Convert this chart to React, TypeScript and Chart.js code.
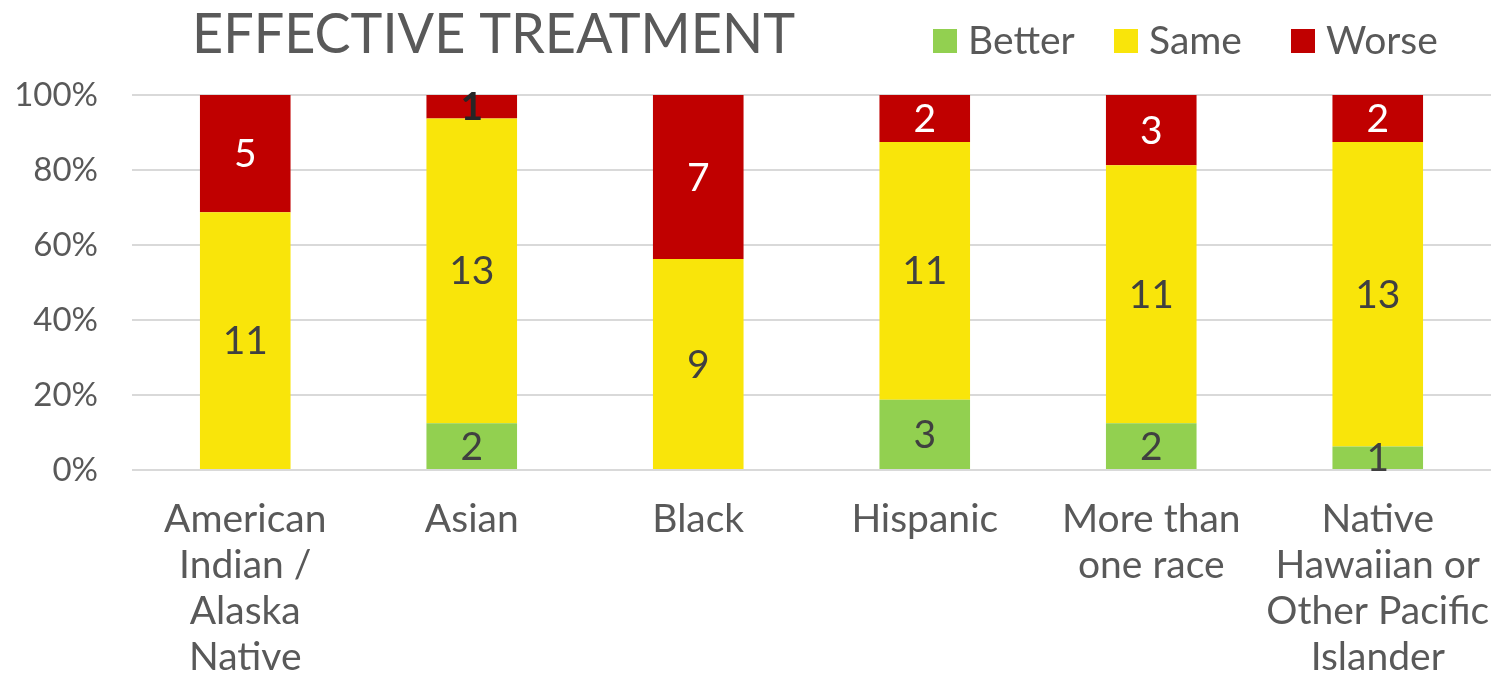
import React, { useEffect, useRef } from "react";
import { Chart, registerables } from "chart.js";

Chart.register(...registerables);

// ---- data ----
const categories: string[][] = [
  ["American", "Indian /", "Alaska", "Native"],
  ["Asian"],
  ["Black"],
  ["Hispanic"],
  ["More than", "one race"],
  ["Native", "Hawaiian or", "Other Pacific", "Islander"],
];
const seriesNames = ["Better", "Same", "Worse"];
const better = [0, 2, 0, 3, 2, 1];
const same = [11, 13, 9, 11, 11, 13];
const worse = [5, 1, 7, 2, 3, 2];
const yTickStep = 20;
const yMax = 100;
const titleText = "EFFECTIVE TREATMENT";

// ---- styles ----
const seriesColors = ["#92D050", "#F9E50A", "#C00000"];
const FONT = "Lato, 'Open Sans', sans-serif";
const TEXT = "#595959";
const legendBoxX = [933, 1114, 1291];

const counts = [better, same, worse];
const totals = better.map((_, i) => better[i] + same[i] + worse[i]);

const overlayPlugin = {
  id: "overlay",
  afterDatasetsDraw(chart: any) {
    const ctx = chart.ctx;
    ctx.save();
    chart.data.datasets.forEach((ds: any, di: number) => {
      const meta = chart.getDatasetMeta(di);
      meta.data.forEach((el: any, i: number) => {
        const c = counts[di][i];
        if (!c) return;
        const top = Math.min(el.y, el.base);
        const bottom = Math.max(el.y, el.base);
        const h = bottom - top;
        const cy = (top + bottom) / 2;
        let color = "#404040";
        let weight = "";
        if (di === 2) {
          if (h < 30) {
            color = "#262626";
            weight = "bold ";
          } else color = "#FFFFFF";
        }
        ctx.font = `${weight}39px ${FONT}`;
        ctx.fillStyle = color;
        ctx.textAlign = "center";
        ctx.textBaseline = "middle";
        ctx.fillText(String(c), el.x, cy + 1);
      });
    });
    ctx.restore();
  },
  afterDraw(chart: any) {
    const ctx = chart.ctx;
    ctx.save();
    ctx.font = `56px ${FONT}`;
    ctx.fillStyle = TEXT;
    ctx.textAlign = "left";
    ctx.textBaseline = "alphabetic";
    ctx.fillText(titleText, 192, 53, 603);
    ctx.font = `39px ${FONT}`;
    seriesNames.forEach((name, i) => {
      const x = legendBoxX[i];
      ctx.fillStyle = seriesColors[i];
      ctx.fillRect(x, 29, 24, 24);
      ctx.fillStyle = TEXT;
      ctx.fillText(name, x + 35, 54);
    });
    ctx.restore();
  },
};

export default function App() {
  const ref = useRef<HTMLCanvasElement | null>(null);
  useEffect(() => {
    if (!ref.current) return;
    const chart = new Chart(ref.current, {
      type: "bar",
      data: {
        labels: categories,
        datasets: seriesNames.map((name, di) => ({
          label: name,
          data: counts[di].map((v, i) => (v / totals[i]) * 100),
          backgroundColor: seriesColors[di],
          borderWidth: 0,
          barPercentage: 0.4,
          categoryPercentage: 1,
        })),
      },
      options: {
        responsive: false,
        animation: false,
        layout: { padding: { top: 95, right: 6, left: 17, bottom: 0 } },
        plugins: {
          legend: { display: false },
          title: { display: false },
          tooltip: { enabled: false },
        },
        scales: {
          x: {
            stacked: true,
            grid: { display: false },
            border: { display: false },
            afterFit: (s: any) => {
              s.paddingLeft = 0;
              s.paddingRight = 0;
              s.height = 208;
            },
            ticks: {
              color: TEXT,
              font: { family: FONT, size: 39, lineHeight: "46px" },
              padding: 18,
              maxRotation: 0,
              autoSkip: false,
            },
          },
          y: {
            stacked: true,
            min: 0,
            max: yMax,
            afterFit: (s: any) => {
              s.width = 115;
            },
            ticks: {
              stepSize: yTickStep,
              callback: (v: any) => `${v}%`,
              color: TEXT,
              font: { family: FONT, size: 33 },
              padding: 34,
            },
            grid: { color: "#D9D9D9", lineWidth: 2, drawTicks: false },
            border: { display: false },
          },
        },
      },
      plugins: [overlayPlugin],
    });
    return () => chart.destroy();
  }, []);
  return (
    <canvas
      ref={ref}
      width={1497}
      height={678}
      style={{ position: "absolute", left: 0, top: 0, width: 1497, height: 678, background: "#fff" }}
    />
  );
}
